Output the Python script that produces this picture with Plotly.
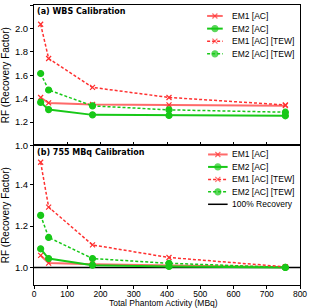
import plotly.graph_objects as go

# ---- data ----
activity = [20, 44, 176, 406, 756]

wbs_em1_ac = [1.41, 1.363, 1.350, 1.346, 1.340]
wbs_em2_ac = [1.368, 1.306, 1.261, 1.256, 1.253]
wbs_em1_tew = [2.036, 1.743, 1.496, 1.410, 1.346]
wbs_em2_tew = [1.615, 1.474, 1.338, 1.304, 1.284]

mbq_em1_ac = [1.058, 1.021, 1.016, 1.010, 1.001]
mbq_em2_ac = [1.090, 1.043, 1.011, 1.005, 1.000]
mbq_em1_tew = [1.509, 1.292, 1.109, 1.048, 1.003]
mbq_em2_tew = [1.252, 1.145, 1.043, 1.020, 1.000]

recovery_x = [0, 800]
recovery_y = [1.0, 1.0]

series_names = ["EM1 [AC]", "EM2 [AC]", "EM1 [AC] [TEW]", "EM2 [AC] [TEW]"]
ref_name = "100% Recovery"

x_ticks = [0, 100, 200, 300, 400, 500, 600, 700, 800]

# ---- styles ----
RED = "#ff3030"
RED_LIGHT = "#ff6a6a"
GREEN = "#18c818"
FONT = "Liberation Sans, Arial, sans-serif"
BOLD = "DejaVu Sans, sans-serif"

styles = [
    dict(color=RED_LIGHT, width=2, dash="solid", symbol="x-thin", msize=5, mcolor=RED),
    dict(color=GREEN, width=2, dash="solid", symbol="circle", msize=6, mcolor=GREEN),
    dict(color=RED, width=1.5, dash="3px,2px", symbol="x-thin", msize=5, mcolor=RED),
    dict(color=GREEN, width=1.5, dash="3px,2px", symbol="circle", msize=6, mcolor=GREEN),
]

fig = go.Figure()

def add_series(xs, ys, st, xa, ya):
    fig.add_trace(go.Scatter(
        x=xs, y=ys, mode="lines+markers", showlegend=False,
        line=dict(color=st["color"], width=st["width"], dash=st["dash"]),
        marker=dict(symbol=st["symbol"], size=st["msize"], color=st["mcolor"],
                    line=dict(color=st["mcolor"], width=1.2)),
        xaxis=xa, yaxis=ya))

top_sets = [wbs_em1_ac, wbs_em2_ac, wbs_em1_tew, wbs_em2_tew]
bot_sets = [mbq_em1_ac, mbq_em2_ac, mbq_em1_tew, mbq_em2_tew]

fig.add_trace(go.Scatter(x=recovery_x, y=recovery_y, mode="lines", showlegend=False,
                         line=dict(color="black", width=1.5), xaxis="x", yaxis="y"))
for ys, st in zip(top_sets, styles):
    add_series(activity, ys, st, "x2", "y2")
for ys, st in zip(bot_sets, styles):
    add_series(activity, ys, st, "x", "y")

# ---- custom compact legends (pixel-coordinate overlay axes) ----
def legend_block(rows_y, names, stys, x0, x1, xt):
    for yy, nm, st in zip(rows_y, names, stys):
        fig.add_trace(go.Scatter(
            x=[x0, (x0 + x1) / 2, x1], y=[yy, yy, yy], mode="lines+markers",
            showlegend=False, hoverinfo="skip",
            line=dict(color=st["color"], width=st["width"], dash=st["dash"]),
            marker=dict(symbol=st.get("symbol", "circle"),
                        size=[0, st.get("msize", 0), 0],
                        color=st.get("mcolor", st["color"]),
                        line=dict(color=st.get("mcolor", st["color"]), width=1.2)),
            xaxis="x3", yaxis="y3"))
        fig.add_annotation(x=xt, y=yy, xref="x3", yref="y3", text=nm,
                           showarrow=False, xanchor="left", yanchor="middle",
                           font=dict(family=FONT, size=8.5, color="black"))

legend_block([15, 27.7, 40.3, 53], series_names, styles, 205, 221, 228)
ref_style = dict(color="black", width=1.5, dash="solid", msize=0)
legend_block([154, 166.5, 179, 191.5, 204], series_names + [ref_name],
             styles + [ref_style], 206, 226, 228)

# ---- panel labels ----
fig.add_annotation(x=29, y=11, xref="x3", yref="y3", text="<b>(a) WBS Calibration</b>",
                   showarrow=False, xanchor="left", yanchor="middle",
                   font=dict(family=BOLD, size=8, color="black"))
fig.add_annotation(x=29, y=152, xref="x3", yref="y3", text="<b>(b) 755 MBq Calibration</b>",
                   showarrow=False, xanchor="left", yanchor="middle",
                   font=dict(family=BOLD, size=8, color="black"))

# ---- x axis title (paper coords) ----
fig.add_annotation(x=(160 - 28) / 272, y=(285 - 303.5) / 281, xref="paper", yref="paper",
                   text="Total Phantom Activity (MBq)",
                   showarrow=False, xanchor="center", yanchor="middle",
                   font=dict(family=FONT, size=8.5, color="black"))

split = 140 / 281
axis_common = dict(showline=True, linecolor="black", linewidth=1, mirror=True,
                   showgrid=False, zeroline=False, ticklen=3, tickcolor="black")

fig.update_layout(
    width=313, height=308,
    margin=dict(l=28, r=13, t=4, b=23),
    paper_bgcolor="white", plot_bgcolor="rgba(0,0,0,0)",
    showlegend=False,
    font=dict(family=FONT, size=10, color="black"),
    xaxis=dict(domain=[0, 1], range=[0, 800], tickvals=x_ticks, ticks="outside",
               anchor="y", tickfont=dict(family=FONT, size=8.5, color="black"),
               ticklabelstandoff=-2,
               **axis_common),
    yaxis=dict(domain=[0, split], range=[0.915, 1.59], tick0=1.0, dtick=0.2,
               tickformat=".1f", ticks="outside", anchor="x",
               tickfont=dict(family=FONT, size=9.5, color="black"),
               title=dict(text="RF (Recovery Factor)", standoff=4,
                          font=dict(family=FONT, size=10)),
               **axis_common),
    xaxis2=dict(domain=[0, 1], range=[0, 800], tickvals=x_ticks, ticks="inside",
                showticklabels=False, anchor="y2", **axis_common),
    yaxis2=dict(domain=[split, 1], range=[0.999, 2.201], tick0=1.0, dtick=0.2,
                tickformat=".1f", ticks="outside", anchor="x2",
                tickfont=dict(family=FONT, size=9.5, color="black"),
                title=dict(text="RF (Recovery Factor)", standoff=4,
                           font=dict(family=FONT, size=10)),
                **axis_common),
    xaxis3=dict(domain=[0, 1], range=[28, 300], visible=False, anchor="y3"),
    yaxis3=dict(domain=[0, 1], range=[285, 4], visible=False, anchor="x3"),
)

fig.write_html("out.html", config={"displayModeBar": False},
               post_script="document.body.style.margin='0';document.body.style.overflow='hidden';")
